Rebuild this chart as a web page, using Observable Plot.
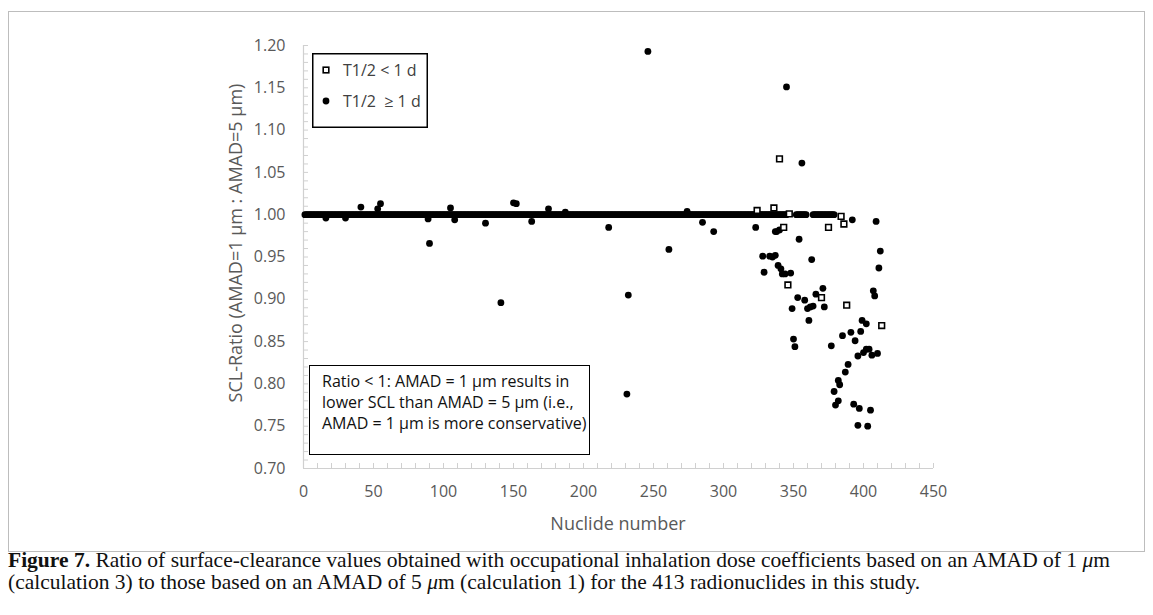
<!DOCTYPE html>
<html>
<head>
<meta charset="utf-8">
<script src="https://cdn.jsdelivr.net/npm/d3@7"></script>
<script src="https://cdn.jsdelivr.net/npm/@observablehq/plot@0.6"></script>
<style>
  html, body { margin: 0; padding: 0; background: #fff; }
  #wrap { position: relative; width: 1153px; height: 615px; overflow: hidden; }
  #frame { position: absolute; left: 8px; top: 11px; width: 1137px; height: 541px; border: 1px solid #bdbdbd; box-sizing: border-box; }
  #chart { position: absolute; left: 0; top: 0; }
  .axt { position: absolute; font-family: "Open Sans", sans-serif; font-size: 18px; color: #595959; white-space: nowrap; }
  #xt { left: 618px; top: 523px; transform: translate(-50%, -50%); }
  #yt { left: 235px; top: 243px; transform: translate(-50%, -50%) rotate(-90deg); }
  #note { position: absolute; left: 309px; top: 365px; width: 281px; height: 90px; border: 1.5px solid #000; box-sizing: border-box; background: #fff;
          font-family: "Open Sans", sans-serif; font-size: 16px; line-height: 21px; color: #111; padding: 5px 0 0 12px; white-space: nowrap; }
  #legend { position: absolute; left: 312px; top: 53px; }
  #caption { position: absolute; left: 8px; top: 549px; font-family: "Liberation Serif", serif; font-size: 21.5px; line-height: 22px; color: #111; white-space: nowrap; }
</style>
</head>
<body>
<div id="wrap">
  <div id="frame"></div>
  <div id="chart"></div>
  <div class="axt" id="xt">Nuclide number</div>
  <div class="axt" id="yt">SCL-Ratio (AMAD=1 μm : AMAD=5 μm)</div>
  <div id="note">Ratio &lt; 1: AMAD = 1 μm results in<br>lower SCL than AMAD = 5 μm (i.e.,<br>AMAD = 1 μm is more conservative)</div>
  <svg id="legend" width="116" height="75"></svg>
  <div id="caption"><b>Figure 7.</b> Ratio of surface-clearance values obtained with occupational inhalation dose coefficients based on an AMAD of 1 <i>μ</i>m<br>(calculation 3) to those based on an AMAD of 5 <i>μ</i>m (calculation 1) for the 413 radionuclides in this study.</div>
</div>
<script>
// ---- data ----
// nuclides whose ratio is 1.000 (T1/2 >= 1 d), given as inclusive runs of nuclide numbers
const baselineRuns = [[1, 345], [352, 359], [364, 379]];
const baselineRatio = 1.000;

// T1/2 >= 1 d nuclides off the 1.000 line
const longN = [16, 30, 41, 53, 55, 89, 90, 105, 108, 130, 141, 150, 152, 163, 175, 187, 218, 231, 232, 246,
  261, 274, 285, 293, 323, 328, 329, 333, 335, 337, 337, 338, 339, 340, 341, 342, 344, 345, 348, 349,
  350, 351, 353, 354, 356, 358, 360, 361, 362, 363, 364, 366, 371, 372, 377, 379, 380, 382, 382, 383,
  385, 387, 389, 391, 392, 393, 394, 396, 396, 397, 398, 399, 400, 402, 402, 403, 404, 405, 406, 407,
  408, 409, 410, 411, 412];
const longRatio = [0.996, 0.996, 1.009, 1.007, 1.013, 0.995, 0.966, 1.008, 0.994, 0.990, 0.896, 1.014, 1.013, 0.992, 1.007, 1.003, 0.985, 0.788, 0.905, 1.193,
  0.959, 1.004, 0.991, 0.980, 0.985, 0.951, 0.932, 0.951, 0.950, 0.952, 0.980, 0.980, 0.940, 0.982, 0.936, 0.930, 0.930, 1.151, 0.931, 0.889,
  0.853, 0.844, 0.902, 0.971, 1.061, 0.899, 0.889, 0.875, 0.891, 0.947, 0.892, 0.906, 0.913, 0.891, 0.845, 0.791, 0.775, 0.804, 0.780, 0.799,
  0.857, 0.814, 0.823, 0.861, 0.994, 0.776, 0.851, 0.833, 0.751, 0.771, 0.862, 0.875, 0.837, 0.871, 0.841, 0.750, 0.841, 0.769, 0.834, 0.910,
  0.904, 0.992, 0.836, 0.937, 0.957];

// T1/2 < 1 d nuclides
const shortN = [324, 336, 340, 343, 346, 347, 370, 375, 384, 386, 388, 413];
const shortRatio = [1.005, 1.008, 1.066, 0.985, 0.917, 1.001, 0.902, 0.985, 0.998, 0.989, 0.893, 0.869];

// axis ticks
const xTicks = [0, 50, 100, 150, 200, 250, 300, 350, 400, 450];
const yTicks = [0.70, 0.75, 0.80, 0.85, 0.90, 0.95, 1.00, 1.05, 1.10, 1.15, 1.20];
const xMinor = d3.range(0, 451, 10);
const yMinor = d3.range(70, 121, 1).map(v => v / 100);

// ---- build tables ----
const longPts = [];
for (const [a, b] of baselineRuns) for (let n = a; n <= b; n++) longPts.push({n, r: baselineRatio});
longN.forEach((n, i) => longPts.push({n, r: longRatio[i]}));
const shortPts = shortN.map((n, i) => ({n, r: shortRatio[i]}));

const axisGray = "#d0d0d0";
const chart = Plot.plot({
  width: 1153, height: 550,
  marginLeft: 303, marginRight: 220, marginTop: 45, marginBottom: 82,
  x: {domain: [0, 450]},
  y: {domain: [0.70, 1.20]},
  style: {fontFamily: "Open Sans, sans-serif", fontSize: "16px", color: "#595959", background: "transparent", overflow: "visible"},
  marks: [
    Plot.axisX(xMinor, {tickSize: -5, tickFormat: () => "", label: null, stroke: axisGray}),
    Plot.axisY(yMinor, {tickSize: -5, tickFormat: () => "", label: null, stroke: axisGray}),
    Plot.axisX(xTicks, {tickSize: 0, tickPadding: 17, tickFormat: d3.format("d"), label: null, fontSize: 16}),
    Plot.axisY(yTicks, {tickSize: 0, tickPadding: 18, tickFormat: d3.format(".2f"), label: null, fontSize: 16}),
    Plot.ruleX([0], {stroke: axisGray, strokeWidth: 1.2}),
    Plot.ruleY([0.70], {stroke: axisGray, strokeWidth: 1.2}),
    Plot.dot(longPts, {x: "n", y: "r", r: 3.4, fill: "#000", stroke: null}),
    Plot.dot(shortPts, {x: "n", y: "r", symbol: "square", r: 3.2, fill: "#fff", stroke: "#000", strokeWidth: 1.6})
  ]
});
document.getElementById("chart").appendChild(chart);

// ---- legend (symbols drawn with the same styling as the chart marks) ----
const lg = d3.select("#legend");
lg.append("rect").attr("x", 0.75).attr("y", 0.75).attr("width", 114.5).attr("height", 73.5)
  .attr("fill", "#fff").attr("stroke", "#000").attr("stroke-width", 1.5);
const legendItems = [
  {label: "T1/2 < 1 d", type: "short"},
  {label: "T1/2  ≥ 1 d", type: "long"}
];
legendItems.forEach((d, i) => {
  const cy = 17 + i * 31;
  if (d.type === "short") {
    lg.append("rect").attr("x", 14 - 2.8).attr("y", cy - 2.8).attr("width", 5.6).attr("height", 5.6)
      .attr("fill", "#fff").attr("stroke", "#000").attr("stroke-width", 1.6);
  } else {
    lg.append("circle").attr("cx", 14).attr("cy", cy).attr("r", 3.4).attr("fill", "#000");
  }
  lg.append("text").attr("x", 31).attr("y", cy).attr("dy", "0.35em")
    .attr("font-family", "Open Sans, sans-serif").attr("font-size", 16).attr("fill", "#404040")
    .style("white-space", "pre").text(d.label);
});
</script>
</body>
</html>
